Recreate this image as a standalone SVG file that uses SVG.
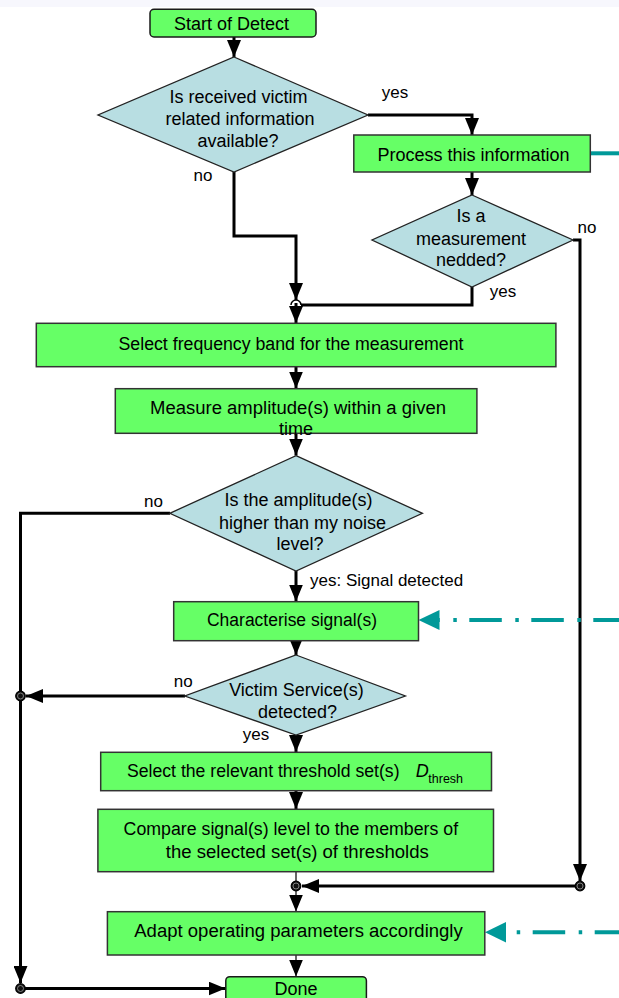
<svg xmlns="http://www.w3.org/2000/svg" width="619" height="998" viewBox="0 0 619 998">
<style>
.box{fill:#66ff66;stroke:#333;stroke-width:1.5}
.term{fill:#66ff66;stroke:#1a1a1a;stroke-width:1.5}
.dec{fill:#b8dee2;stroke:#222;stroke-width:1.3}
text{font-family:"Liberation Sans",Arial,sans-serif;fill:#000}
.t{font-size:18px;text-anchor:middle}
.ts{font-size:18px}
.lbl{font-size:17px}
.ln{fill:none;stroke:#000;stroke-width:3}
.thin{fill:none;stroke:#000;stroke-width:1.2}
.teal{fill:none;stroke:#009999;stroke-width:4}
.dash{stroke-dasharray:3.5 12.5 32.5 13.5}
.jn{fill:#111;stroke:#000;stroke-width:1.2}
.jr{fill:none;stroke:#999;stroke-width:0.8}
</style>
<defs>
<marker id="ah" viewBox="0 0 17 14" refX="17" refY="7" markerWidth="17" markerHeight="14" markerUnits="userSpaceOnUse" orient="auto">
<path d="M0,0 L17,7 L0,14 z" fill="#000"/>
</marker>
</defs>
<rect x="0" y="0" width="619" height="998" fill="#fff"/>
<rect x="0" y="0" width="619" height="7" fill="#f7f7fd"/>

<g id="connectors">
<path class="ln" d="M234,37 V57" marker-end="url(#ah)"/>
<path class="ln" d="M368,115 H472 V135" marker-end="url(#ah)"/>
<path class="ln" d="M472,172 V195" marker-end="url(#ah)"/>
<path class="ln" d="M234,172 V236 H296 V300" marker-end="url(#ah)"/>
<path class="ln" d="M472,287 V305 H301"/>
<path d="M291,305 A5,5 0 0,1 301,305" fill="none" stroke="#000" stroke-width="1.5"/>
<path class="ln" d="M296,303 V323" marker-end="url(#ah)"/>
<path class="ln" d="M296,367 V388.5" marker-end="url(#ah)"/>
<path class="ln" d="M296,433.5 V455.5" marker-end="url(#ah)"/>
<path class="ln" d="M170,513.3 H20.5 V983" marker-end="url(#ah)"/>
<path class="ln" d="M296,571 V601.5" marker-end="url(#ah)"/>
<path class="ln" d="M296,640.7 V655" marker-end="url(#ah)"/>
<path class="ln" d="M185,696 H26" marker-end="url(#ah)"/>
<path class="ln" d="M296,735 V752" marker-end="url(#ah)"/>
<path class="ln" d="M296,790.7 V809" marker-end="url(#ah)"/>
<path class="thin" d="M296,871.7 V911.5" marker-end="url(#ah)"/>
<path class="ln" d="M573,240 H580 V881" marker-end="url(#ah)"/>
<path class="ln" d="M580,886 H302" marker-end="url(#ah)"/>
<path class="thin" d="M296,955 V976.5" marker-end="url(#ah)"/>
<path class="ln" d="M20.5,988.5 H225.5" marker-end="url(#ah)"/>
<path class="teal" d="M590,153.3 H619"/>
<path class="teal dash" d="M439,620 H619" stroke-dashoffset="47.7"/>
<polygon points="418.5,620 439.5,610 439.5,630" fill="#009999"/>
<path class="teal dash" d="M506,932.3 H619" stroke-dashoffset="51.3"/>
<polygon points="485,932.3 506,922 506,942.6" fill="#009999"/>
<circle class="jn" cx="20.5" cy="696" r="4.8"/><circle class="jr" cx="20.5" cy="696" r="3"/>
<circle class="jn" cx="20.5" cy="988.5" r="4.8"/><circle class="jr" cx="20.5" cy="988.5" r="3"/>
<circle class="jn" cx="296" cy="886" r="4.8"/><circle class="jr" cx="296" cy="886" r="3"/>
<circle class="jn" cx="580" cy="886" r="4.8"/><circle class="jr" cx="580" cy="886" r="3"/>
</g>

<g id="labels">
<text class="lbl" x="381.8" y="98">yes</text>
<text class="lbl" x="193.6" y="181">no</text>
<text class="lbl" x="577.5" y="232.5">no</text>
<text class="lbl" x="489.8" y="297">yes</text>
<text class="lbl" x="144" y="507">no</text>
<text class="lbl" x="310" y="586">yes: Signal detected</text>
<text class="lbl" x="173.7" y="687">no</text>
<text class="lbl" x="242.8" y="740">yes</text>
</g>

<g id="start">
<rect class="term" x="150" y="9.3" width="166" height="27.7" rx="4"/>
<text class="t" x="231.5" y="30">Start of Detect</text>
</g>
<g id="d1">
<polygon class="dec" points="234,57 368,115 234,172 98,115"/>
<text class="t" x="238.5" y="103">Is received victim</text>
<text class="t" x="240" y="125">related information</text>
<text class="t" x="238" y="147">available?</text>
</g>
<g id="process">
<rect class="box" x="353.8" y="135" width="236.5" height="37"/>
<text class="t" x="473.5" y="161">Process this information</text>
</g>
<g id="d2">
<polygon class="dec" points="472,195 573,240 472,287 372,240"/>
<text class="t" x="471" y="222">Is a</text>
<text class="t" x="471" y="244.5">measurement</text>
<text class="t" x="471" y="266">nedded?</text>
</g>
<g id="select-band">
<rect class="box" x="36.3" y="323.3" width="519.6" height="43.4"/>
<text class="t" x="291" y="349.5" textLength="345" lengthAdjust="spacingAndGlyphs">Select frequency band for the measurement</text>
</g>
<g id="measure">
<rect class="box" x="115.3" y="388.7" width="361.6" height="44.6"/>
<text class="t" x="298" y="413.5" textLength="296" lengthAdjust="spacingAndGlyphs">Measure amplitude(s) within a given</text>
<text class="t" x="296" y="434.5">time</text>
</g>
<g id="d3">
<polygon class="dec" points="296,455.7 422.4,513.3 296,571 169.8,513.3"/>
<text class="t" x="298.5" y="506">Is the amplitude(s)</text>
<text class="t" x="302.5" y="528.5">higher than my noise</text>
<text class="t" x="300" y="550">level?</text>
</g>
<g id="characterise">
<rect class="box" x="173.7" y="601.7" width="244.8" height="39"/>
<text class="t" x="292" y="626" textLength="170" lengthAdjust="spacingAndGlyphs">Characterise signal(s)</text>
</g>
<g id="d4">
<polygon class="dec" points="296,655 405.4,696 296,735 184.8,696"/>
<text class="t" x="296.5" y="696">Victim Service(s)</text>
<text class="t" x="297.5" y="717.5">detected?</text>
</g>
<g id="select-threshold">
<rect class="box" x="100.7" y="752.3" width="390.8" height="38.4"/>
<text class="ts" x="127" y="776.5" textLength="272.5" lengthAdjust="spacingAndGlyphs">Select the relevant threshold set(s)</text>
<text class="ts" x="415.7" y="776.5" font-style="italic">D</text>
<text x="428.3" y="783" font-size="12.5">thresh</text>
</g>
<g id="compare">
<rect class="box" x="97.9" y="809.3" width="395.6" height="62.4"/>
<text class="ts" x="123.6" y="835" textLength="334.5" lengthAdjust="spacingAndGlyphs">Compare signal(s) level to the members of</text>
<text class="ts" x="165.8" y="857.5" textLength="263" lengthAdjust="spacingAndGlyphs">the selected set(s) of thresholds</text>
</g>
<g id="adapt">
<rect class="box" x="107.4" y="911.7" width="377.4" height="43.3"/>
<text class="t" x="298.5" y="936.5" textLength="328.5" lengthAdjust="spacingAndGlyphs">Adapt operating parameters accordingly</text>
</g>
<g id="done">
<rect class="term" x="225.8" y="976.7" width="140.6" height="40" rx="4"/>
<text class="t" x="296" y="995">Done</text>
</g>
</svg>
